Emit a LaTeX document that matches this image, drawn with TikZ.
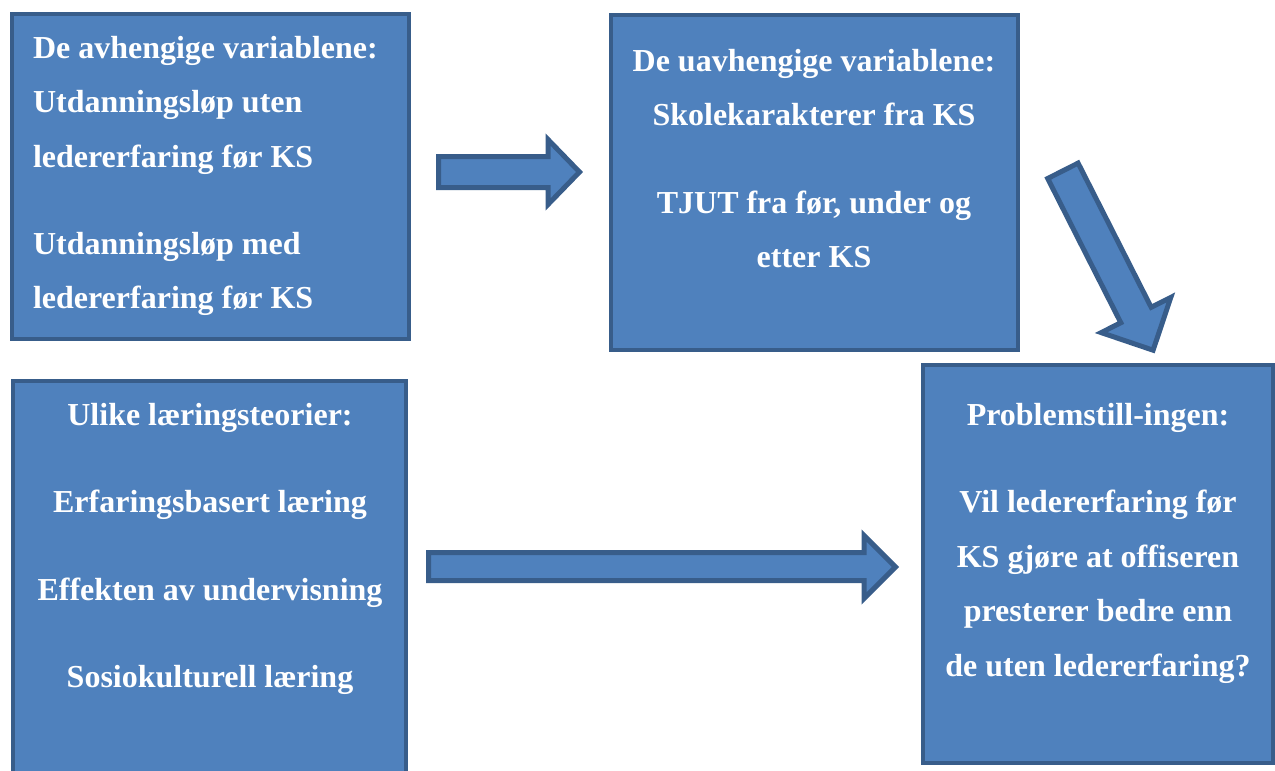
\documentclass[tikz,border=0pt]{standalone}
\usepackage{fontspec}
\setmainfont{Liberation Serif}
\definecolor{boxfill}{HTML}{4F81BD}
\definecolor{boxline}{HTML}{385D8A}
\newcommand\txtblock[2]{\parbox[t]{#1}{#2}}
\tikzset{
  box/.style={draw=boxline, fill=boxfill, line width=4.5pt, rectangle, inner sep=0pt, outer sep=0pt},
  blockarrow/.style={draw=boxline, fill=boxfill, line width=5pt, line join=miter},
  boxtext/.style={inner sep=0pt, outer sep=0pt, text=white, font=\bfseries\fontsize{32}{54.5}\selectfont},
}
\begin{document}
\begin{tikzpicture}[x=1pt,y=-1pt]
\useasboundingbox (0,0) rectangle (1275,771);
\clip (0,0) rectangle (1275,771);
% boxes
\node[box, minimum width=397pt, minimum height=325pt] (b1) at (210.5,176.5) {};
\node[box, minimum width=407pt, minimum height=335pt] (b2) at (814.5,182.5) {};
\node[box, minimum width=393pt, minimum height=394pt] (b3) at (209.5,578) {};
\node[box, minimum width=350pt, minimum height=398pt] (b4) at (1098,564) {};
% texts
\node[boxtext, anchor=base west] (t1) at (33,58) {\txtblock{370pt}{\raggedright De avhengige variablene:\\Utdanningsløp uten\\ledererfaring før KS\\[33pt]Utdanningsløp med\\ledererfaring før KS}};
\node[boxtext, anchor=base] (t2) at (814,71) {\txtblock{400pt}{\centering De uavhengige variablene:\\Skolekarakterer fra KS\\[33pt]TJUT fra før, under og\\etter KS}};
\node[boxtext, anchor=base] (t3) at (210,425) {\txtblock{385pt}{\centering Ulike læringsteorier:\\[33pt]Erfaringsbasert læring\\[33pt]Effekten av undervisning\\[33pt]Sosiokulturell læring}};
\node[boxtext, anchor=base] (t4) at (1098,425) {\txtblock{345pt}{\centering Problemstill-ingen:\\[33pt]Vil ledererfaring før\\KS gjøre at offiseren\\presterer bedre enn\\de uten ledererfaring?}};
% block arrows
\draw[blockarrow] (438.5,156.5) -- (548,156.5) -- (548,139.5) -- (579.5,172) -- (548,204.5) -- (548,187.5) -- (438.5,187.5) -- cycle;
\draw[blockarrow] (1078.1,163.1) -- (1151.2,307.3) -- (1170.8,297.4) -- (1153.1,350.2) -- (1101.2,332.6) -- (1120.8,322.7) -- (1047.7,178.5) -- cycle;
\draw[blockarrow] (428.5,552.5) -- (864,552.5) -- (864,535.5) -- (895.5,567) -- (864,598.5) -- (864,580.5) -- (428.5,580.5) -- cycle;
\end{tikzpicture}
\end{document}
